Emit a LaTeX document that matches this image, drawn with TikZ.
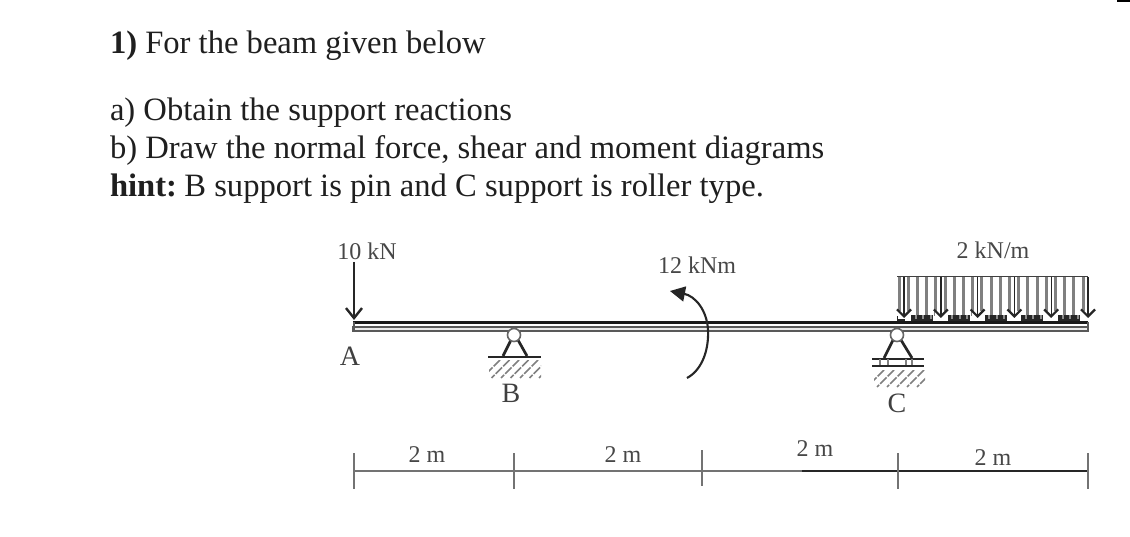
\documentclass[tikz,border=0pt]{standalone}
\usepackage{fontspec}
\setmainfont{Liberation Serif}
\usetikzlibrary{arrows.meta}
\tikzset{
  x=1pt,y=-1pt,
  head/.style={anchor=west,font=\fontsize{32.6}{39}\selectfont,text=black!88,inner sep=0,outer sep=0},
  lab/.style={font=\fontsize{24}{26}\selectfont,text=black!72,inner sep=0},
  letter/.style={font=\fontsize{28}{30}\selectfont,text=black!75,inner sep=0},
  hatchline/.style={draw=black!50,line width=1.6,dash pattern=on 9 off 1.5},
  tickline/.style={draw=black!55,line width=2},
  udl/.style={draw=black!50,line width=3},
  udlarrow/.style={draw=black!85,line width=1.4,-{Straight Barb[length=7,width=14,line width=2.2]}},
  pin/.style={draw=black!85,line width=2.7},
  pinball/.style={circle,draw=black!60,line width=1.6,fill=white,minimum size=13,inner sep=0},
}
\begin{document}
\begin{tikzpicture}
\useasboundingbox (0,0) rectangle (1130,537);
\fill[white] (0,0) rectangle (1130,537);
\fill[black] (1117,0) rectangle (1130,2);
% heading
\node[head] (t1) at (110,46) {\textbf{1)} For the beam given below};
\node[head] (t2) at (110,113) {a) Obtain the support reactions};
\node[head] (t3) at (110,151) {b) Draw the normal force, shear and moment diagrams};
\node[head] (t4) at (110,189) {\textbf{hint:}\hspace{-3.5pt} B support is pin and C support is roller type.};
% distributed load
\foreach \i in {0,...,20}{
  \draw[udl] ({899+\i*9.2},276) -- ({899+\i*9.2},316);
}
\draw[black!75,line width=1.8] (897,276.5) -- (1088,276.5);
\foreach \i in {0,...,4}{
  \fill[black!85] ({911+\i*36.8},315) rectangle ({933+\i*36.8},321);
  \foreach \j in {0,1,2}
    \fill[white!55!black] ({914.5+\i*36.8+\j*7.5},315.5) rectangle ({916.5+\i*36.8+\j*7.5},319.5);
}
\fill[black!85] (897,316) rectangle (905,321);
\foreach \i in {0,...,5}{
  \fill[white] ({904+\i*36.8-6},311) rectangle ({904+\i*36.8+6},319);
}
\coordinate (u0) at (904,277); \coordinate (u1) at (940.8,277); \coordinate (u2) at (977.6,277);
\coordinate (u3) at (1014.4,277); \coordinate (u4) at (1051.2,277); \coordinate (u5) at (1088,277);
\coordinate (v0) at (904,318); \coordinate (v1) at (940.8,318); \coordinate (v2) at (977.6,318);
\coordinate (v3) at (1014.4,318); \coordinate (v4) at (1051.2,318); \coordinate (v5) at (1088,318);
\foreach \i in {0,...,5} \draw[udlarrow] (u\i) -- (v\i);
\node[lab] (lq) at (993,250) {2 kN/m};
% beam
\draw[draw=black!65,fill=black!8,line width=2.6] (353,327) rectangle (1088,331);
\draw[black!90,line width=2.6] (353,322.5) -- (1088,322.5);
\draw[black!65,line width=2] (353.5,322) -- (353.5,331);
\draw[black!65,line width=2] (1087.5,322) -- (1087.5,331);
% point load
\coordinate (f0) at (354,262);
\coordinate (f1) at (354,320);
\draw[black!85,line width=2,-{Straight Barb[length=10,width=16,line width=2.4]}] (f0) -- (f1);
\node[lab] (lf) at (367,251) {10 kN};
\node[letter] (la) at (350,356) {A};
% pin B
\draw[pin] (503,356) -- (511,340) (518,340) -- (527,356);
\draw[black!85,line width=2] (488,356.5) -- (541,356.5);
\node[pinball] (pb) at (514,335) {};
\begin{scope}
\clip (489,360) rectangle (541,378);
\foreach \i in {0,...,8}
  \draw[hatchline] ({482+\i*9.5+18},360) -- ({482+\i*9.5},378);
\end{scope}
\node[letter] (lb) at (511,393) {B};
% roller C
\draw[pin] (884,358) -- (893,340) (901,340) -- (912,358);
\draw[black!85,line width=2] (872,358.5) -- (924,358.5);
\draw[black!85,line width=2.2] (872,366) -- (924,366);
\foreach \x in {880,888,906,912}
  \draw[black!50,line width=1.8] (\x,359) -- (\x,365);
\node[pinball] (pc) at (897,335) {};
\begin{scope}
\clip (874,370) rectangle (925,387);
\foreach \i in {0,...,8}
  \draw[hatchline] ({867+\i*10+17},370) -- ({867+\i*10},387);
\end{scope}
\node[letter] (lc) at (897,403) {C};
% moment
\coordinate (m0) at (687,378);
\coordinate (m1) at (670,291);
\draw[black!85,line width=2.1,-{Triangle[length=15,width=15]}]
  (m0) .. controls (702,370) and (709,350) .. (708,330)
  .. controls (707,310) and (695,296) .. (m1);
\node[lab] (lm) at (697,265) {12 kNm};
% dimensions
\coordinate (d0) at (354,471); \coordinate (d1) at (514,471); \coordinate (d2) at (702,471);
\coordinate (d3) at (898,471); \coordinate (d4) at (1088,471); \coordinate (d5) at (802,471);
\draw[black!55,line width=2] (d0) -- (d5);
\draw[black!85,line width=2] (d5) -- (d4);
\draw[tickline] (354,453) -- (354,489);
\draw[tickline] (514,453) -- (514,489);
\draw[tickline,line width=2.6] (702,450) -- (702,486);
\draw[tickline] (898,453) -- (898,489);
\draw[tickline] (1088,453) -- (1088,489);
\node[lab] (n1) at (427,455) {2 m};
\node[lab] (n2) at (623,455) {2 m};
\node[lab] (n3) at (815,449) {2 m};
\node[lab] (n4) at (993,458) {2 m};
\end{tikzpicture}
\end{document}
